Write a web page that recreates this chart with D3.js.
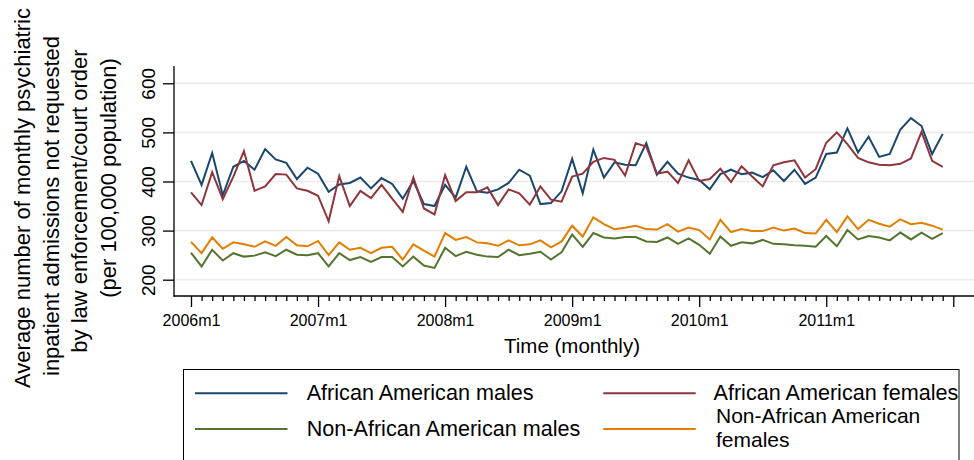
<!DOCTYPE html>
<html>
<head>
<meta charset="utf-8">
<script src="https://cdn.jsdelivr.net/npm/d3@7"></script>
<style>
  html, body { margin: 0; padding: 0; background: #ffffff; }
  svg { display: block; font-family: "Liberation Sans", Arial, sans-serif; }
</style>
</head>
<body>
<svg id="chart" width="974" height="460"></svg>
<script>
// Monthly series, January 2006 through December 2011 (72 months)
const years = [2006, 2007, 2008, 2009, 2010, 2011];
const months = [];
years.forEach(y => { for (let m = 1; m <= 12; m++) months.push(y + "m" + m); });

const tickLabels = ["2006m1", "2007m1", "2008m1", "2009m1", "2010m1", "2011m1"];
const yTicks = [200, 300, 400, 500, 600];

const aaMales = [442, 393, 458, 372, 430, 442, 424, 466, 445, 438, 405, 428,
                 416, 379, 394, 397, 408, 386, 407, 395, 365, 401, 354, 350,
                 393, 367, 430, 380, 377, 384, 397, 424, 412, 354, 356, 380,
                 446, 376, 465, 408, 439, 434, 433, 478, 414, 440, 416, 408,
                 403, 384, 415, 424, 415, 418, 409, 423, 401, 424, 395, 408,
                 456, 459, 508, 459, 491, 450, 456, 506, 529, 513, 456, 497];

const aaFemales = [378, 352, 419, 364, 410, 462, 381, 390, 415, 414, 386, 381,
                   371, 319, 411, 350, 381, 366, 393, 365, 338, 408, 345, 333,
                   413, 360, 378, 378, 388, 352, 384, 376, 353, 390, 363, 359,
                   410, 416, 440, 448, 444, 412, 478, 471, 416, 420, 397, 443,
                   401, 405, 426, 399, 431, 410, 390, 433, 439, 443, 408, 425,
                   479, 500, 476, 448, 439, 434, 433, 436, 447, 501, 442, 430];

const naaMales = [255, 227, 261, 239, 254, 247, 249, 256, 248, 261, 251, 250,
                  254, 227, 254, 240, 246, 236, 246, 246, 227, 247, 229, 224,
                  265, 248, 257, 251, 247, 246, 261, 250, 253, 257, 241, 256,
                  292, 267, 295, 286, 284, 287, 287, 278, 277, 286, 273, 284,
                  271, 253, 288, 269, 276, 274, 281, 273, 272, 270, 269, 267,
                  289, 268, 301, 282, 289, 286, 280, 296, 282, 296, 283, 295];

const naaFemales = [277, 254, 286, 263, 276, 272, 267, 278, 269, 287, 270, 268,
                    279, 250, 276, 261, 265, 254, 265, 267, 241, 272, 259, 247,
                    295, 281, 287, 276, 274, 269, 280, 270, 272, 280, 266, 278,
                    310, 288, 327, 313, 303, 306, 310, 303, 302, 313, 298, 306,
                    301, 282, 322, 297, 303, 299, 299, 306, 300, 304, 295, 294,
                    322, 297, 329, 303, 322, 314, 308, 323, 313, 316, 310, 302];

const seriesNames = ["African American males", "African American females",
                     "Non-African American males", "Non-African American females"];
const seriesColors = ["#1a476f", "#90353b", "#55752f", "#e37e00"];
const seriesValues = [aaMales, aaFemales, naaMales, naaFemales];

const svg = d3.select("#chart");

// Plot region
const axisX = 174, axisY = 296, plotTop = 66, plotRight = 974;

// x: month index (0 = 2006m1, 72 = 2012m1)
const x = d3.scaleLinear().domain([0, 72]).range([191, 953.3]);
// y: admissions per 100,000
const y = d3.scaleLinear().domain([166.8, 635.2]).range([axisY, plotTop]);

// Horizontal gridlines
svg.append("g")
  .selectAll("line")
  .data(yTicks)
  .join("line")
  .attr("x1", axisX).attr("x2", plotRight)
  .attr("y1", d => y(d)).attr("y2", d => y(d))
  .attr("stroke", "#ebebeb").attr("stroke-width", 1.6);

// Series lines
const line = d3.line().x((d, i) => x(i)).y(d => y(d));
svg.append("g")
  .selectAll("path")
  .data(seriesValues)
  .join("path")
  .attr("d", d => line(d))
  .attr("fill", "none")
  .attr("stroke", (d, i) => seriesColors[i])
  .attr("stroke-width", 2)
  .attr("stroke-linejoin", "miter");

// Y axis
const yAxis = svg.append("g")
  .attr("transform", `translate(${axisX},0)`)
  .call(d3.axisLeft(y).tickValues(yTicks).tickSize(11).tickSizeOuter(0).tickPadding(0));
yAxis.select(".domain").remove();
yAxis.selectAll(".tick line").attr("stroke", "#000").attr("stroke-width", 1.3);
yAxis.selectAll(".tick text")
  .attr("x", null).attr("dy", null)
  .attr("text-anchor", "middle")
  .attr("transform", "translate(-19,0) rotate(-90)")
  .attr("font-size", 19)
  .attr("font-family", "Liberation Sans, Arial, sans-serif")
  .attr("fill", "#000");

// X axis: major ticks every January, minor ticks each month
const majorIdx = d3.range(0, 73, 12);
const minorIdx = d3.range(0, 73).filter(i => i % 12 !== 0);
const xMinor = svg.append("g")
  .attr("transform", `translate(0,${axisY})`)
  .call(d3.axisBottom(x).tickValues(minorIdx).tickSize(5).tickSizeOuter(0).tickFormat(""));
xMinor.select(".domain").remove();
xMinor.selectAll(".tick line").attr("stroke", "#000").attr("stroke-width", 1.3);

const xMajor = svg.append("g")
  .attr("transform", `translate(0,${axisY})`)
  .call(d3.axisBottom(x).tickValues(majorIdx).tickSize(11).tickSizeOuter(0)
        .tickPadding(7)
        .tickFormat(i => (i / 12 < tickLabels.length ? tickLabels[i / 12] : "")));
xMajor.select(".domain").remove();
xMajor.selectAll(".tick line").attr("stroke", "#000").attr("stroke-width", 1.3);
xMajor.selectAll(".tick text")
  .attr("dy", null).attr("y", 30)
  .attr("font-size", 16)
  .attr("font-family", "Liberation Sans, Arial, sans-serif")
  .attr("fill", "#000");

// Axis lines
svg.append("line")
  .attr("x1", axisX).attr("x2", axisX).attr("y1", plotTop).attr("y2", axisY + 0.6)
  .attr("stroke", "#000").attr("stroke-width", 1.3);
svg.append("line")
  .attr("x1", axisX - 0.6).attr("x2", plotRight).attr("y1", axisY).attr("y2", axisY)
  .attr("stroke", "#000").attr("stroke-width", 1.3);

// Axis titles
svg.append("text")
  .attr("x", 572).attr("y", 353)
  .attr("text-anchor", "middle")
  .attr("font-size", 20.5)
  .attr("fill", "#000")
  .text("Time (monthly)");

const yTitle = [
  { text: "Average number of monthly psychiatric", bx: 30, cy: 198 },
  { text: "inpatient admissions not requested", bx: 58.5, cy: 206 },
  { text: "by law enforcement/court order", bx: 87, cy: 201 },
  { text: "(per 100,000 population)", bx: 115.5, cy: 178 }
];
svg.append("g")
  .selectAll("text")
  .data(yTitle)
  .join("text")
  .attr("transform", d => `translate(${d.bx},${d.cy}) rotate(-90)`)
  .attr("text-anchor", "middle")
  .attr("font-size", 22)
  .attr("fill", "#000")
  .text(d => d.text);

// Legend
const legend = svg.append("g");
legend.append("rect")
  .attr("x", 183.5).attr("y", 369.5)
  .attr("width", 775.5).attr("height", 120)
  .attr("fill", "#fff").attr("stroke", "#000").attr("stroke-width", 1);

const legendItems = [
  { s: 0, x1: 195, x2: 287.5, ly: 393.3, tx: 306.7, fs: 21.6, lines: [{ t: seriesNames[0], y: 400 }] },
  { s: 1, x1: 603.3, x2: 695.7, ly: 393.3, tx: 713.5, fs: 21.6, lines: [{ t: seriesNames[1], y: 400 }] },
  { s: 2, x1: 195, x2: 287.5, ly: 429, tx: 306.7, fs: 21.6, lines: [{ t: seriesNames[2], y: 436 }] },
  { s: 3, x1: 603.3, x2: 695.7, ly: 429, tx: 716, fs: 21,
    lines: [{ t: "Non-African American", y: 422.5 }, { t: "females", y: 446.5 }] }
];
const li = legend.selectAll("g.item").data(legendItems).join("g").attr("class", "item");
li.append("line")
  .attr("x1", d => d.x1).attr("x2", d => d.x2)
  .attr("y1", d => d.ly).attr("y2", d => d.ly)
  .attr("stroke", d => seriesColors[d.s]).attr("stroke-width", 2);
li.each(function (d) {
  d3.select(this).selectAll("text")
    .data(d.lines)
    .join("text")
    .attr("x", d.tx).attr("y", l => l.y)
    .attr("font-size", d.fs)
    .attr("fill", "#000")
    .text(l => l.t);
});
</script>
</body>
</html>
